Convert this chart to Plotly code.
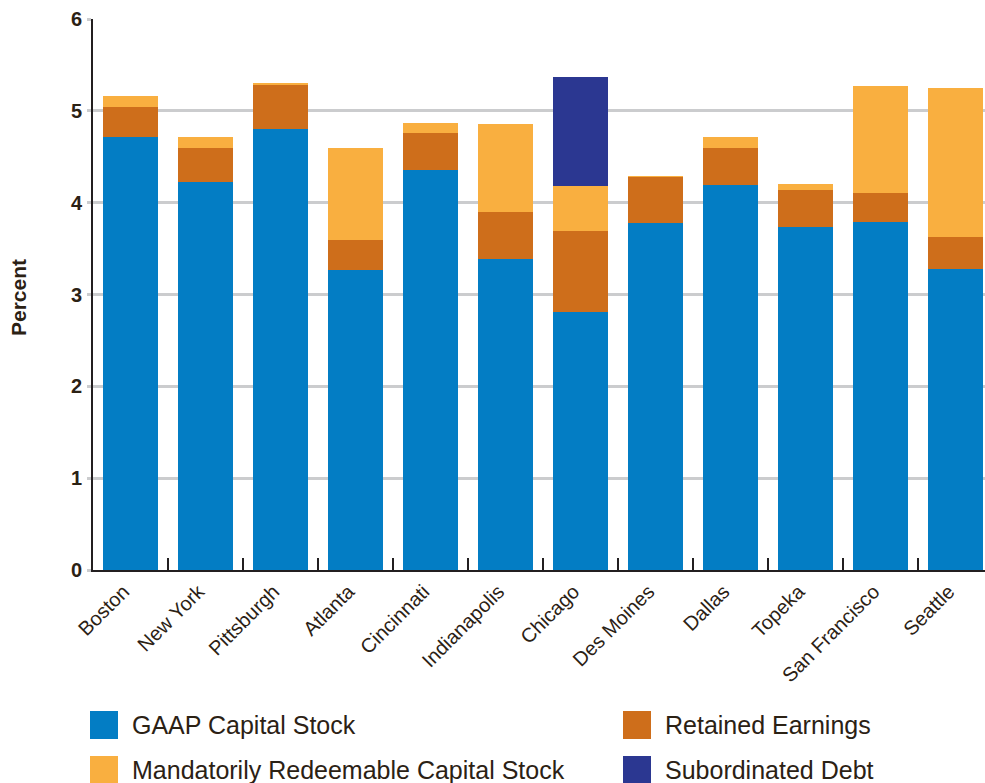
import plotly.graph_objects as go

# ---------------- data ----------------
cities = ["Boston", "New York", "Pittsburgh", "Atlanta", "Cincinnati", "Indianapolis",
          "Chicago", "Des Moines", "Dallas", "Topeka", "San Francisco", "Seattle"]
gaap_capital_stock = [4.72, 4.22, 4.80, 3.27, 4.36, 3.39, 2.81, 3.78, 4.19, 3.73, 3.79, 3.28]
retained_earnings = [0.32, 0.38, 0.49, 0.32, 0.40, 0.51, 0.88, 0.50, 0.40, 0.41, 0.32, 0.35]
mandatorily_redeemable = [0.12, 0.12, 0.01, 1.00, 0.11, 0.96, 0.49, 0.01, 0.12, 0.06, 1.16, 1.62]
subordinated_debt = [0, 0, 0, 0, 0, 0, 1.19, 0, 0, 0, 0, 0]
y_ticks = [0, 1, 2, 3, 4, 5, 6]

series_names = ["GAAP Capital Stock", "Retained Earnings",
                "Mandatorily Redeemable Capital Stock", "Subordinated Debt"]
series_values = [gaap_capital_stock, retained_earnings, mandatorily_redeemable, subordinated_debt]
series_colors = ["#037DC4", "#CE6E1B", "#F9AF40", "#2B3791"]

# ---------------- layout constants ----------------
W, H = 985, 783
L, R, T, B = 93, 0, 19, 213
PW, PH = W - L - R, H - T - B
TEXT = "#2B2114"
FONT = "Liberation Sans, Arial, Helvetica, sans-serif"


def px_x(p):
    return (p - L) / PW


def px_y(p):
    return (H - B - p) / PH


fig = go.Figure()
for name, vals, col in zip(series_names, series_values, series_colors):
    fig.add_trace(go.Bar(x=cities, y=vals, name=name, marker=dict(color=col, line=dict(width=0)),
                         width=0.73, showlegend=False))

# manual legend (large square swatches)
legend_pos = [(90, 711), (623, 711), (90, 756), (623, 756)]
shapes = []
annotations = []
for (lx, ly), name, col in zip(legend_pos, series_names, series_colors):
    shapes.append(dict(type="rect", xref="paper", yref="paper",
                       x0=px_x(lx), x1=px_x(lx + 28), y0=px_y(ly + 28), y1=px_y(ly),
                       fillcolor=col, line=dict(width=0)))
    annotations.append(dict(xref="paper", yref="paper", x=px_x(lx + 40), y=px_y(ly + 14),
                            xanchor="left", yanchor="middle", showarrow=False, text=name,
                            font=dict(family=FONT, size=25, color=TEXT)))

# y-axis title
annotations.append(dict(xref="paper", yref="paper", x=px_x(18), y=px_y(298), text="<b>Percent</b>",
                        textangle=-90, showarrow=False, xanchor="center", yanchor="middle",
                        font=dict(family=FONT, size=21, color=TEXT)))

fig.update_layout(
    width=W, height=H,
    margin=dict(l=L, r=R, t=T, b=B, pad=0),
    barmode="stack",
    plot_bgcolor="white", paper_bgcolor="white",
    shapes=shapes, annotations=annotations,
    showlegend=False,
    xaxis=dict(
        type="category", range=[-0.5, 11.39],
        tickson="boundaries", ticks="inside", ticklen=12, tickwidth=2, tickcolor="#231F20",
        tickangle=-45, tickfont=dict(family=FONT, size=20, color=TEXT),
        showline=True, linecolor="#231F20", linewidth=2, showgrid=False,
        ticklabelstandoff=0, ticklabelshift=-7,
    ),
    yaxis=dict(
        range=[0, 6], tickvals=y_ticks, ticktext=[str(v) for v in y_ticks],
        tickfont=dict(family=FONT, size=20, color=TEXT, weight="bold"),
        showgrid=True, gridcolor="#CBCCCE", gridwidth=3,
        showline=True, linecolor="#231F20", linewidth=2,
        ticks="outside", ticklen=4, tickcolor="#CBCCCE", tickwidth=3,
        zeroline=False, ticklabelstandoff=1,
    ),
)

fig.write_html("out.html", config={"displayModeBar": False},
               post_script="document.body.style.margin='0';document.body.style.overflow='hidden';")
